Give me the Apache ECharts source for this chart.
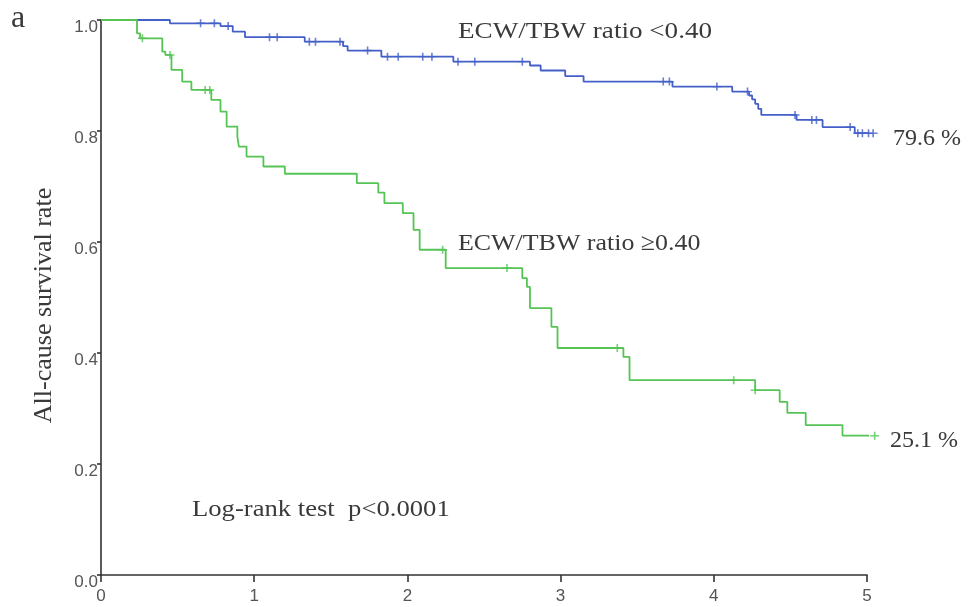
<!DOCTYPE html>
<html>
<head>
<meta charset="utf-8">
<script src="https://cdn.jsdelivr.net/npm/echarts@6/dist/echarts.min.js"></script>
<style>html,body{margin:0;padding:0;background:#fff;}#c{width:969px;height:607px;}</style>
</head>
<body>
<div id="c"></div>
<script>
// ---- data ----
var blueTimes = [0, 0.45, 0.78, 0.86, 0.94, 1.33, 1.58, 1.61, 1.83, 2.30, 2.80, 2.87, 3.03, 3.15, 3.73, 4.12, 4.23, 4.25, 4.27, 4.29, 4.31, 4.54, 4.71, 4.92, 5.04];
var blueSurv  = [1.0, 0.994, 0.989, 0.979, 0.969, 0.961, 0.953, 0.945, 0.934, 0.925, 0.918, 0.909, 0.899, 0.889, 0.880, 0.871, 0.864, 0.857, 0.849, 0.840, 0.829, 0.820, 0.807, 0.796, 0.796];
var blueCensorTimes = [0.65, 0.74, 0.83, 1.10, 1.15, 1.36, 1.40, 1.56, 1.74, 1.87, 1.94, 2.10, 2.16, 2.33, 2.44, 2.75, 3.67, 3.71, 4.02, 4.22, 4.53, 4.64, 4.67, 4.89, 4.94, 4.97, 5.01, 5.04];
var blueCensorSurv  = [0.994, 0.994, 0.989, 0.969, 0.969, 0.961, 0.961, 0.961, 0.945, 0.934, 0.934, 0.934, 0.934, 0.925, 0.925, 0.925, 0.889, 0.889, 0.880, 0.871, 0.829, 0.820, 0.820, 0.807, 0.796, 0.796, 0.796, 0.796];

var greenTimes = [0, 0.235, 0.255, 0.40, 0.42, 0.46, 0.53, 0.59, 0.72, 0.78, 0.82, 0.89, 0.90, 0.95, 1.06, 1.20, 1.67, 1.81, 1.85, 1.97, 2.04, 2.08, 2.25, 2.75, 2.78, 2.80, 2.94, 2.98, 3.41, 3.45, 4.27, 4.43, 4.48, 4.60, 4.84, 5.05];
var greenSurv  = [1.0, 0.976, 0.967, 0.943, 0.937, 0.910, 0.889, 0.874, 0.856, 0.835, 0.808, 0.790, 0.772, 0.754, 0.736, 0.723, 0.706, 0.689, 0.670, 0.652, 0.622, 0.586, 0.553, 0.535, 0.519, 0.481, 0.447, 0.409, 0.393, 0.351, 0.333, 0.312, 0.292, 0.270, 0.251, 0.251];
var greenCensorTimes = [0.27, 0.45, 0.68, 0.71, 2.23, 2.65, 3.37, 4.13, 4.27, 5.05];
var greenCensorSurv  = [0.967, 0.937, 0.874, 0.874, 0.586, 0.553, 0.409, 0.351, 0.333, 0.251];

var xTickLabels = ['0', '1', '2', '3', '4', '5'];
var yTickLabels = ['0.0', '0.2', '0.4', '0.6', '0.8', '1.0'];

var blueName = 'ECW/TBW ratio <0.40';
var greenName = 'ECW/TBW ratio \u22650.40';
var blueEnd = '79.6 %';
var greenEnd = '25.1 %';
var testText = 'Log-rank test  p<0.0001';
var yTitle = 'All-cause survival rate';
var panelLetter = 'a';

// ---- build ----
function zip(a, b) { return a.map(function (v, i) { return [v, b[i]]; }); }
var BLUE = '#4460c8';
var GREEN = '#55c455';
var TEXT = '#3a3a3a';
var SERIF = "'Liberation Serif', 'Times New Roman', serif";
var SANS = "'Liberation Sans', Arial, sans-serif";
var plus = 'path://M0,4.1 L4.1,4.1 L4.1,0 L5.9,0 L5.9,4.1 L10,4.1 L10,5.9 L5.9,5.9 L5.9,10 L4.1,10 L4.1,5.9 L0,5.9 Z';

var chart = echarts.init(document.getElementById('c'), null, { renderer: 'canvas' });
chart.setOption({
  animation: false,
  backgroundColor: '#fff',
  grid: { left: 101, right: 102, top: 20, bottom: 32, containLabel: false },
  xAxis: {
    type: 'value', min: 0, max: 5, interval: 1,
    axisLine: { lineStyle: { color: '#333', width: 1.6 } },
    axisTick: { show: true, length: 7, lineStyle: { color: '#333', width: 1.6 } },
    axisLabel: { margin: 13, color: '#555', fontSize: 17, fontFamily: SANS,
      formatter: function (v) { return xTickLabels[Math.round(v)]; } },
    splitLine: { show: false }
  },
  yAxis: {
    type: 'value', min: 0, max: 1, interval: 0.2,
    name: yTitle, nameLocation: 'middle', nameGap: 44,
    nameTextStyle: { fontFamily: SERIF, fontSize: 26, color: TEXT, padding: [0, 16, 0, 0] },
    axisLine: { lineStyle: { color: '#333', width: 1.6 } },
    axisTick: { show: true, length: 4, lineStyle: { color: '#333', width: 1.6 } },
    axisLabel: { margin: 3, color: '#555', fontSize: 17, fontFamily: SANS,
      verticalAlign: 'top', lineHeight: 14,
      formatter: function (v) { return yTickLabels[Math.round(v * 5)]; } },
    splitLine: { show: false }
  },
  series: [
    { type: 'line', name: blueName, data: zip(blueTimes, blueSurv), step: 'end', symbol: 'none', clip: false,
      lineStyle: { color: BLUE, width: 1.8 }, z: 3 },
    { type: 'line', name: greenName, data: zip(greenTimes, greenSurv), step: 'end', symbol: 'none', clip: false,
      lineStyle: { color: GREEN, width: 1.8 }, z: 3 },
    { type: 'scatter', data: zip(blueCensorTimes, blueCensorSurv), symbol: plus, symbolSize: [9, 8], clip: false,
      itemStyle: { color: BLUE }, z: 4 },
    { type: 'scatter', data: zip(greenCensorTimes, greenCensorSurv), symbol: plus, symbolSize: [9, 8], clip: false,
      itemStyle: { color: GREEN }, z: 4 }
  ],
  graphic: [
    { type: 'text', x: 11, y: 19, style: { text: panelLetter, font: '32px ' + SERIF, fill: TEXT, verticalAlign: 'middle' } },
    { type: 'text', x: 458, y: 32, scaleX: 1.13, style: { text: blueName, font: '24px ' + SERIF, fill: TEXT, verticalAlign: 'middle' } },
    { type: 'text', x: 458, y: 244, scaleX: 1.08, style: { text: greenName, font: '24px ' + SERIF, fill: TEXT, verticalAlign: 'middle' } },
    { type: 'text', x: 893, y: 139, style: { text: blueEnd, font: '24px ' + SERIF, fill: TEXT, verticalAlign: 'middle' } },
    { type: 'text', x: 890, y: 441, style: { text: greenEnd, font: '24px ' + SERIF, fill: TEXT, verticalAlign: 'middle' } },
    { type: 'text', x: 192, y: 510, scaleX: 1.11, style: { text: testText, font: '24px ' + SERIF, fill: TEXT, verticalAlign: 'middle' } }
  ]
});
</script>
</body>
</html>
